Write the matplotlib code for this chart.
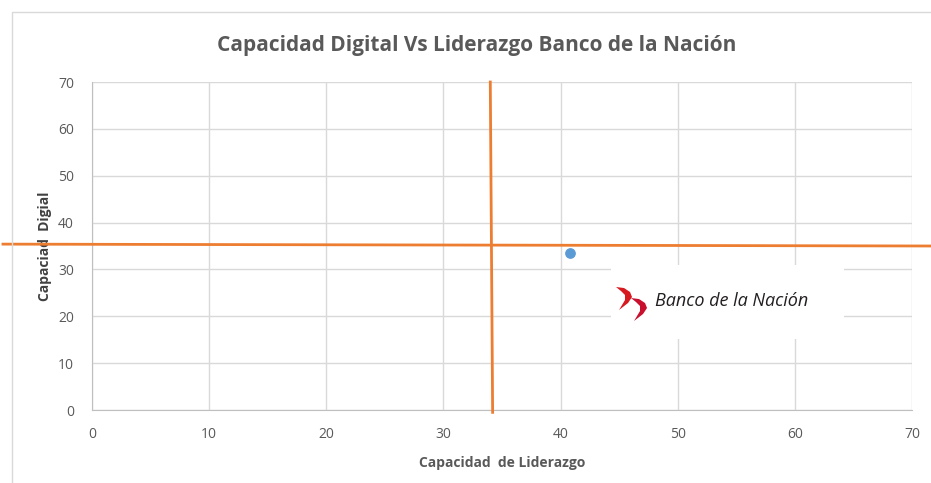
import matplotlib.pyplot as plt
from matplotlib.patches import Rectangle, Polygon

# data
liderazgo = [40.8]
digital = [33.5]
corte_x = 34.0      # vertical divider (Capacidad de Liderazgo)
corte_y = 35.4      # horizontal divider (Capacidad Digital)
x_ticks = [0, 10, 20, 30, 40, 50, 60, 70]
y_ticks = [0, 10, 20, 30, 40, 50, 60, 70]

plt.rcParams['font.family'] = ['Open Sans', 'DejaVu Sans']

fig = plt.figure(figsize=(9.31, 4.83), dpi=100)
fig.patch.set_facecolor('white')
# chart border like excel
fig.patches.append(Rectangle((12 / 931, -0.01), 1.0, 0.985, transform=fig.transFigure,
                             fill=False, edgecolor='#d9d9d9', lw=1))

ax = fig.add_axes([92 / 931, 1 - 410 / 483, 820 / 931, 328 / 483])
ax.set_xlim(0, 70)
ax.set_ylim(0, 70)
ax.set_xticks(x_ticks)
ax.set_yticks(y_ticks)
ax.grid(True, color='#d9d9d9', lw=1)
ax.set_axisbelow(True)
for s in ['top', 'right']:
    ax.spines[s].set_visible(False)
for s in ['left', 'bottom']:
    ax.spines[s].set_color('#bfbfbf')
ax.tick_params(length=0, labelsize=10, colors='#595959')
ax.tick_params(axis='x', pad=12)
ax.tick_params(axis='y', pad=13)

ax.scatter(liderazgo, digital, s=45, color='#5B9BD5', zorder=5)

# orange quadrant lines, drawn past the plot area
ax.plot([corte_x, corte_x + 0.2], [70, -0.5], color='#ED7D31', lw=2, clip_on=False, zorder=4)
ax.plot([-7.6, 71.6], [corte_y, corte_y - 0.4], color='#ED7D31', lw=2, clip_on=False, zorder=4)

# logo box
ax.add_patch(Rectangle((44.3, 15.1), 19.9, 15.8, facecolor='white', edgecolor='none', zorder=3))
swoosh = [(44.73, 26.25), (45.42, 26.03), (45.93, 25.18), (46.10, 24.12), (45.76, 22.84),
          (44.99, 21.34), (45.50, 23.47), (45.50, 24.54), (45.16, 25.39)]
ax.add_patch(Polygon(swoosh, closed=True, facecolor='#d71920', edgecolor='none', zorder=6))
ax.add_patch(Polygon([(px + 1.28, py - 2.35) for px, py in swoosh], closed=True,
                     facecolor='#c8102e', edgecolor='none', zorder=6))
ax.text(48.1, 23.3, 'Banco de la Nación', fontsize=13, style='italic', color='#231f20',
        va='center', ha='left', zorder=6)

ax.set_xlabel('Capacidad  de Liderazgo', fontsize=10, fontweight='bold', color='#595959', labelpad=10)
ax.set_ylabel('Capaciad  Digial', fontsize=10, fontweight='bold', color='#404040', labelpad=4)
fig.text(477 / 931, 1 - 45 / 483, 'Capacidad Digital Vs Liderazgo Banco de la Nación',
         fontsize=15, fontweight='bold', color='#595959', ha='center', va='center')

fig.savefig('out.png', dpi=100)
